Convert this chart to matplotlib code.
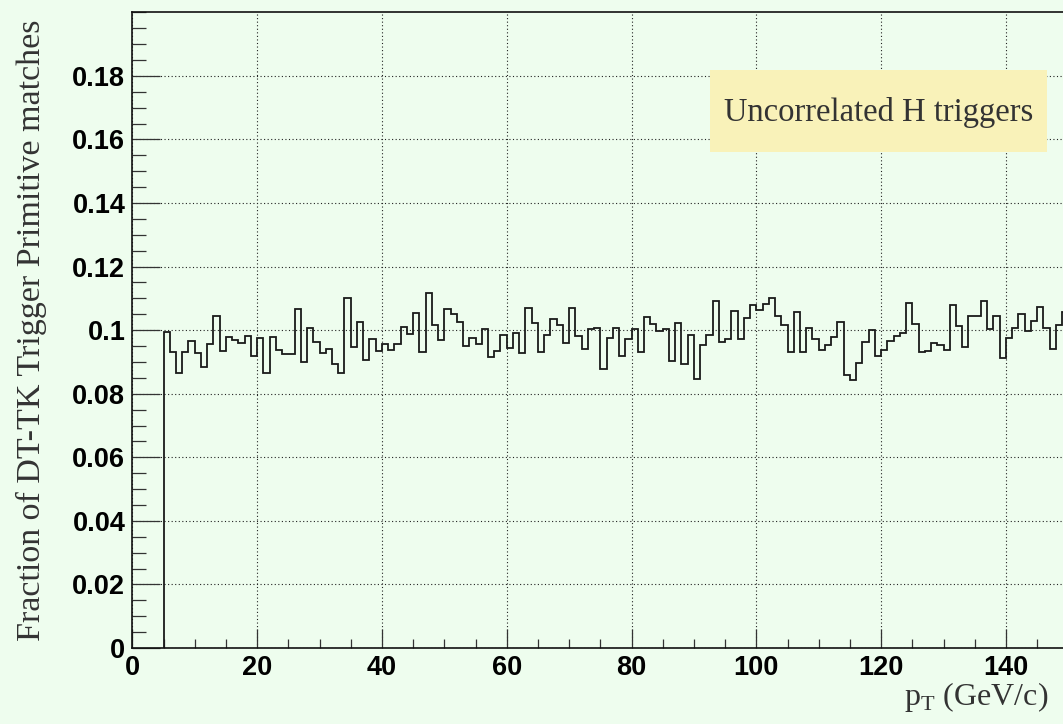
import numpy as np
import matplotlib
matplotlib.use("Agg")
import matplotlib.pyplot as plt
from matplotlib.ticker import MultipleLocator

# Histogram of the matched fraction per 1 GeV/c pT bin (bins start at 5 GeV/c)
bin_start = 5
bin_width = 1
fraction = [
    0.0993, 0.0932, 0.0865, 0.0932, 0.0966, 0.0928, 0.0885, 0.0955, 0.1045, 0.0933,  # 5-14
    0.0979, 0.0969, 0.0960, 0.0981, 0.0918, 0.0976, 0.0865, 0.0980, 0.0936, 0.0926,  # 15-24
    0.0926, 0.1067, 0.0900, 0.1008, 0.0963, 0.0928, 0.0942, 0.0893, 0.0864, 0.1101,  # 25-34
    0.0947, 0.1025, 0.0906, 0.0971, 0.0934, 0.0957, 0.0939, 0.0955, 0.1010, 0.0987,  # 35-44
    0.1054, 0.0932, 0.1117, 0.1015, 0.0968, 0.1068, 0.1050, 0.1027, 0.0950, 0.0975,  # 45-54
    0.0957, 0.1003, 0.0915, 0.0934, 0.0984, 0.0943, 0.0991, 0.0927, 0.1071, 0.1022,  # 55-64
    0.0932, 0.0984, 0.1034, 0.1016, 0.0960, 0.1071, 0.0982, 0.0941, 0.1003, 0.1008,  # 65-74
    0.0878, 0.0976, 0.1006, 0.0920, 0.0972, 0.1003, 0.0932, 0.1041, 0.1018, 0.0998,  # 75-84
    0.1003, 0.0903, 0.1022, 0.0895, 0.0984, 0.0846, 0.0952, 0.0984, 0.1092, 0.0963,  # 85-94
    0.0972, 0.1060, 0.0971, 0.1038, 0.1079, 0.1062, 0.1083, 0.1101, 0.1045, 0.1016,  # 95-104
    0.0932, 0.1057, 0.0932, 0.1007, 0.0973, 0.0936, 0.0952, 0.0980, 0.1026, 0.0859,  # 105-114
    0.0842, 0.0896, 0.0964, 0.1001, 0.0919, 0.0936, 0.0966, 0.0981, 0.0990, 0.1086,  # 115-124
    0.1018, 0.0930, 0.0933, 0.0958, 0.0954, 0.0937, 0.1078, 0.1012, 0.0948, 0.1043,  # 125-134
    0.1045, 0.1091, 0.1003, 0.1045, 0.0912, 0.0975, 0.1008, 0.1052, 0.0998, 0.1029,  # 135-144
    0.1073, 0.1006, 0.0942, 0.1017, 0.1056,                                          # 145-149
]
edges = bin_start + bin_width * np.arange(len(fraction) + 1)

x_label = "p$_\\mathregular{T}$ (GeV/c)"
y_label = "Fraction of DT-TK Trigger Primitive matches"
box_text = "Uncorrelated H triggers"

bg = "#eefdee"
W, H = 1063, 724
fig = plt.figure(figsize=(W / 100, H / 100), dpi=100, facecolor=bg)

# frame: x from 0 to 150, y from 0 to 0.2 (right edge falls just past the canvas)
left_px, bottom_px, top_px = 132.3, 648.0, 12.3
px_per_unit = 6.24
ax = fig.add_axes([left_px / W, (H - bottom_px) / H,
                   150 * px_per_unit / W, (bottom_px - top_px) / H])
ax.set_facecolor(bg)
ax.set_xlim(0, 150)
ax.set_ylim(0, 0.2)

ax.stairs(fraction, edges, baseline=0, color="#1a1a1a", lw=1.3)

# axes styling
for s in ax.spines.values():
    s.set_linewidth(1.2)
    s.set_color("#111111")

ax.xaxis.set_major_locator(MultipleLocator(20))
ax.xaxis.set_minor_locator(MultipleLocator(5))
ax.yaxis.set_major_locator(MultipleLocator(0.02))
ax.yaxis.set_minor_locator(MultipleLocator(0.005))

ax.tick_params(axis="y", which="major", direction="in", length=20, width=0.9,
               color="#333333", pad=5)
ax.tick_params(axis="y", which="minor", direction="in", length=10, width=0.9,
               color="#333333")
ax.tick_params(axis="x", which="major", direction="in", length=13.5, width=0.9,
               color="#333333", pad=5)
ax.tick_params(axis="x", which="minor", direction="in", length=6.8, width=0.9,
               color="#333333")

label_font = dict(family="Liberation Sans", weight="bold", size=19.5)
ax.set_xticks(np.arange(0, 160, 20))
ax.set_xticklabels([f"{v:g}" for v in np.arange(0, 160, 20)], fontdict=label_font)
yt = np.round(np.arange(0, 0.2, 0.02), 2)
ax.set_yticks(yt)
ax.set_yticklabels([f"{v:g}" for v in yt], fontdict=label_font)

ax.grid(True, which="major", color="#222222", linestyle=(0, (1, 2.2)), lw=0.8)
ax.set_axisbelow(True)

serif = dict(family="Liberation Serif", color="#333333")
fig.text(31 / W, 1 - 330 / H, y_label, rotation=90, ha="center", va="center",
         fontsize=24.5, **serif)
fig.text(1048 / W, 1 - 697 / H, x_label, ha="right", va="center",
         fontsize=23, **serif)

# annotation box
bx0, bx1 = 92.6, 146.6
by0, by1 = 0.156, 0.182
ax.add_patch(plt.Rectangle((bx0, by0), bx1 - bx0, by1 - by0,
                           facecolor="#f9f2b9", edgecolor="none", zorder=3))
ax.text((bx0 + bx1) / 2, (by0 + by1) / 2 - 0.0005, box_text, ha="center",
        va="center", fontsize=23.5, zorder=4, **serif)

fig.savefig("out.png", dpi=100, facecolor=bg)
